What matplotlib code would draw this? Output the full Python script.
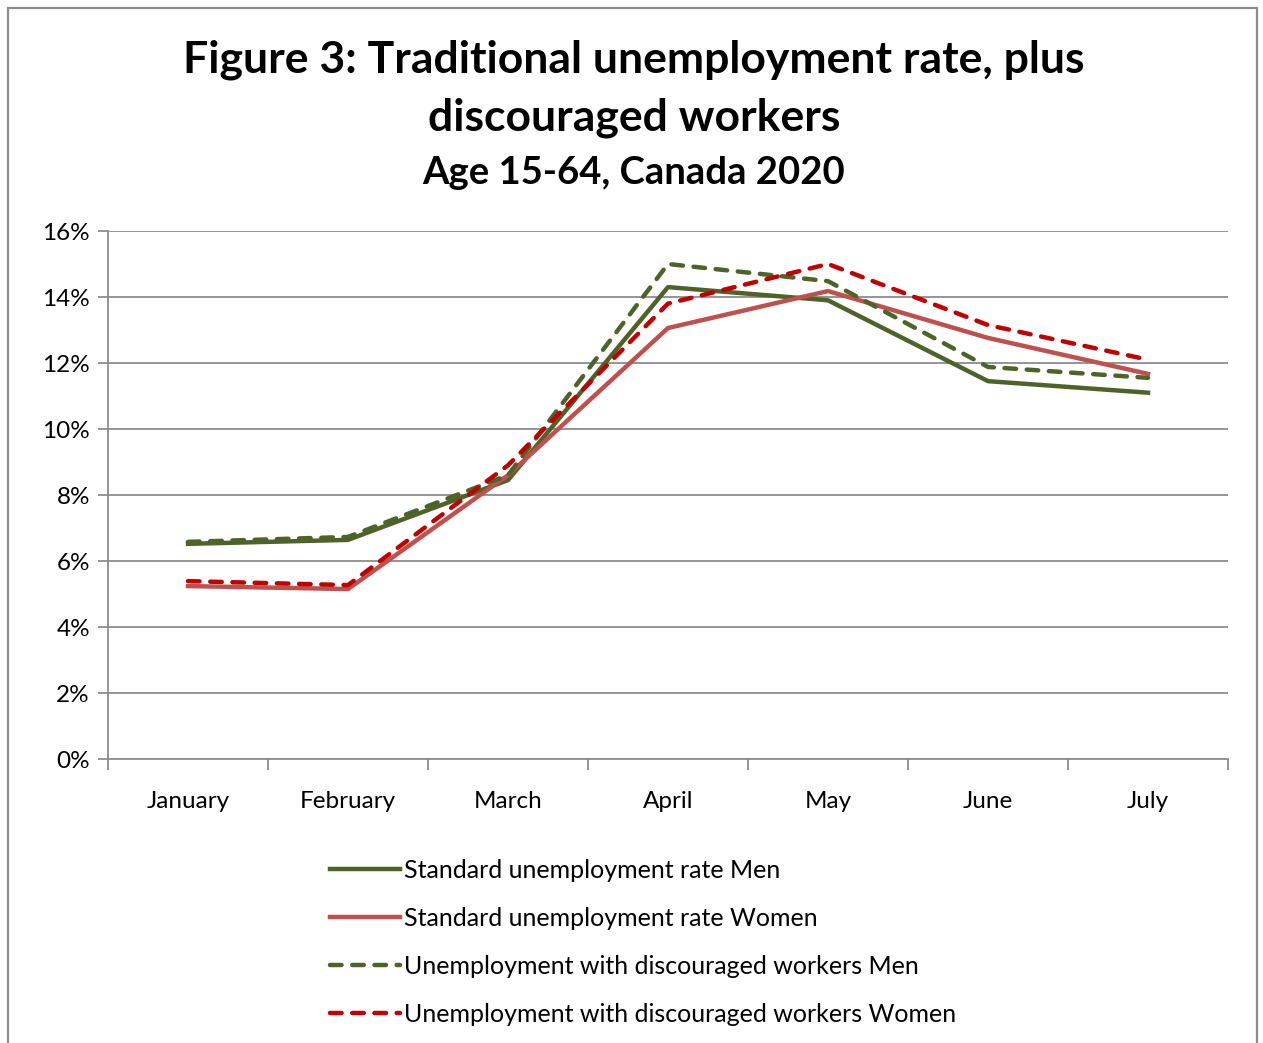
import matplotlib
matplotlib.use("Agg")
import matplotlib.pyplot as plt
import matplotlib.patches as patches
import numpy as np
from matplotlib.ticker import FuncFormatter

plt.rcParams['font.family'] = ['Lato', 'DejaVu Sans']

months = ['January', 'February', 'March', 'April', 'May', 'June', 'July']
std_men = [6.52, 6.64, 8.45, 14.3, 13.9, 11.45, 11.1]
std_women = [5.24, 5.15, 8.6, 13.06, 14.18, 12.76, 11.67]
disc_men = [6.58, 6.73, 8.6, 15.0, 14.48, 11.88, 11.55]
disc_women = [5.39, 5.27, 8.9, 13.8, 15.0, 13.15, 12.1]

W, H = 1263, 1043
fig = plt.figure(figsize=(W / 100, H / 100), dpi=100)
ax = fig.add_axes([108 / W, 1 - 759 / H, (1228 - 108) / W, (759 - 231) / H])

# frame around the whole chart
fig.patches.append(patches.Rectangle((8 / W, -0.01), (1257 - 8) / W, 1 - 8 / H + 0.01,
                                     transform=fig.transFigure, fill=False,
                                     edgecolor='#8c8c8c', lw=1.6))

x = np.arange(len(months))
green = '#4F6228'
lw = 3.2
ax.plot(x, std_men, color=green, lw=lw, label='Standard unemployment rate Men', zorder=3)
ax.plot(x, std_women, color='#C0504D', lw=lw, label='Standard unemployment rate Women', zorder=3)
ax.plot(x, disc_men, color=green, lw=lw, ls=(0, (2.6, 2.4)), dash_capstyle='round',
        label='Unemployment with discouraged workers Men', zorder=4)
ax.plot(x, disc_women, color='#C00000', lw=lw, ls=(0, (2.6, 2.4)), dash_capstyle='round',
        label='Unemployment with discouraged workers Women', zorder=4)

ax.set_xlim(-0.5, 6.5)
ax.set_ylim(0, 16)
ax.set_yticks(np.arange(0, 17, 2))
ax.yaxis.set_major_formatter(FuncFormatter(lambda v, p: f'{v:.0f}%'))
ax.grid(axis='y', color='#8c8c8c', lw=1.3)
ax.set_axisbelow(True)

# category boundaries as ticks, labels centred on each month
ax.set_xticks(np.arange(-0.5, 7, 1))
ax.set_xticklabels([])
ax.set_xticks(x, minor=True)
ax.set_xticklabels(months, minor=True, fontsize=17.5)
ax.tick_params(axis='x', which='minor', length=0, pad=23)
ax.tick_params(axis='x', which='major', length=8, color='#8c8c8c', width=1.3)
ax.tick_params(axis='y', length=7, color='#8c8c8c', width=1.3, labelsize=17.5, pad=6)

for s in ['top', 'right']:
    ax.spines[s].set_visible(False)
ax.spines['left'].set_color('#8c8c8c')
ax.spines['bottom'].set_color('#8c8c8c')
ax.spines['left'].set_linewidth(1.3)
ax.spines['bottom'].set_linewidth(1.3)

fig.text(0.502, 1 - 60 / H, 'Figure 3: Traditional unemployment rate, plus',
         ha='center', va='center', fontsize=32, fontweight='bold')
fig.text(0.502, 1 - 118 / H, 'discouraged workers',
         ha='center', va='center', fontsize=32, fontweight='bold')
fig.text(0.502, 1 - 173 / H, 'Age 15-64, Canada 2020',
         ha='center', va='center', fontsize=27.5, fontweight='bold')

fig.legend(loc='upper left', bbox_to_anchor=(330 / W, 1 - 859 / H), frameon=False,
           fontsize=18, handlelength=2.8, handletextpad=0.15, labelspacing=1.0,
           borderaxespad=0, borderpad=0)

fig.savefig('out.png', dpi=100, facecolor='white')
